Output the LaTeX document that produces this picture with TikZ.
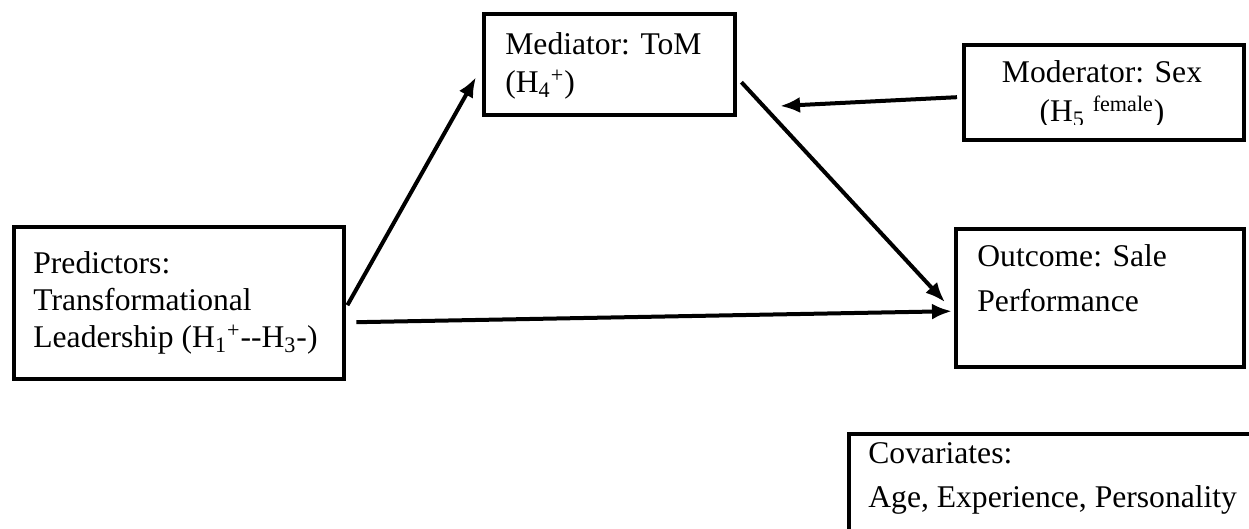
\documentclass[tikz,border=0pt]{standalone}
\usepackage{fontspec}
\setmainfont{Liberation Serif}
\usetikzlibrary{arrows.meta}
\begin{document}
\begin{tikzpicture}[x=0.5pt,y=-0.5pt,
    box/.style={shape=rectangle,draw=black,line width=2.2pt,anchor=north west,inner sep=0pt},
    txt/.style={anchor=base west,align=left,inner sep=0pt,font=\fontsize{15.8}{18.5}\selectfont},
    arr/.style={-{Latex[length=10pt,width=8pt]},line width=2pt}]
  \useasboundingbox (0,0) rectangle (1249,529);
  % boxes
  \node[box,minimum width=165pt,minimum height=76pt] (pred) at (12,225) {};
  \node[box,minimum width=125.5pt,minimum height=50.5pt] (med) at (482,12) {};
  \node[box,minimum width=140pt,minimum height=47.5pt] (mod) at (962,43) {};
  \node[box,minimum width=144pt,minimum height=69pt] (out) at (954,227) {};
  \node[box,minimum width=250pt,minimum height=100pt] (cov) at (847,432) {};
  % texts (base = last line)
  \node[txt] (predtxt) at (33,348) {Predictors:\\Transformational\\Leadership (H\textsubscript{1}\textsuperscript{+}-{}-H\textsubscript{3}-)};
  \node[txt,font=\fontsize{15.8}{19}\selectfont] (medtxt) at (505,93) {Mediator: ToM\\(H\textsubscript{4}\textsuperscript{+})};
  \begin{scope}
    \clip (962,43) rectangle (1242,125);
    \node[txt,anchor=base,align=center,font=\fontsize{15.8}{19.5}\selectfont] (modtxt) at (1102,122) {Moderator: Sex\\(H\textsubscript{5} \textsuperscript{female})};
  \end{scope}
  \node[txt,font=\fontsize{15.8}{22.5}\selectfont] (outtxt) at (977,312) {Outcome: Sale\\Performance};
  \node[txt,font=\fontsize{15.8}{22}\selectfont] (covtxt) at (868,508) {Covariates:\\Age, Experience, Personality};
  % paths
  \coordinate (modtip) at (780,106);
  \path [arr] ([shift={(0.5pt,-1pt)}]pred.east) edge ([shift={(-3pt,-6.25pt)}]med.west);
  \path [arr] ([shift={(5pt,-9.5pt)}]pred.east) edge ([shift={(-1pt,-6.5pt)}]out.west);
  \path [arr] ([shift={(2pt,-8.75pt)}]med.east) edge ([shift={(-4.5pt,-2pt)}]out.west);
  \path [arr] ([shift={(-2.5pt,-2.25pt)}]mod.west) edge (modtip);
\end{tikzpicture}
\end{document}
